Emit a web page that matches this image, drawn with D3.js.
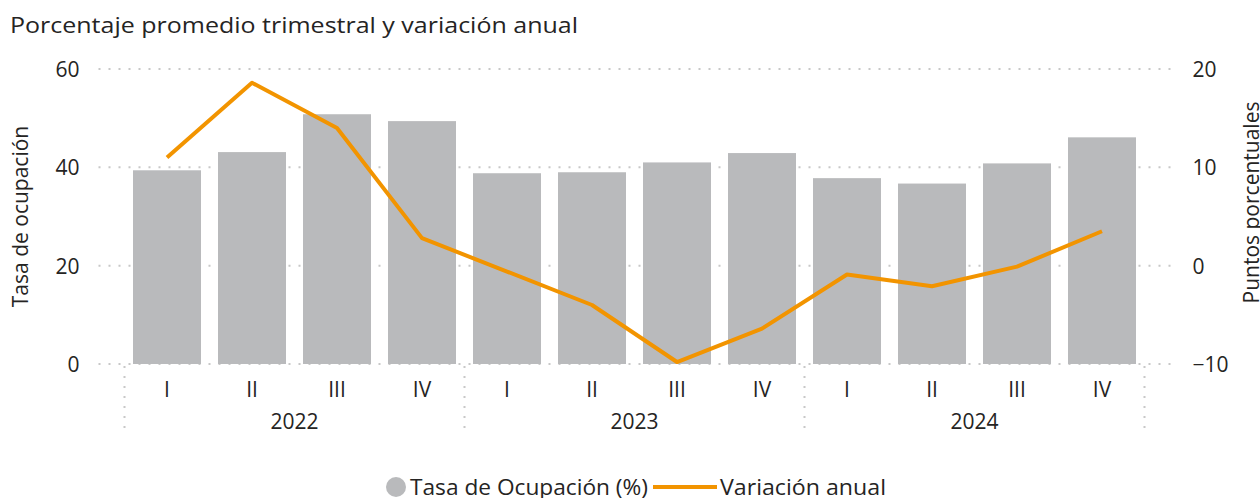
<!DOCTYPE html>
<html>
<head>
<meta charset="utf-8">
<script src="https://cdn.jsdelivr.net/npm/d3@7"></script>
<style>
  body { margin: 0; background: #fff; }
  svg text { font-family: "Open Sans", "Noto Sans", sans-serif; fill: #252423; }
</style>
</head>
<body>
<svg width="1260" height="498"></svg>
<script>
// data
const years = ["2022", "2023", "2024"];
const quarters = ["I", "II", "III", "IV"];
const ocupacion = [39.4, 43.1, 50.8, 49.4, 38.8, 39.0, 41.0, 42.9, 37.8, 36.7, 40.8, 46.1];
const variacion = [11.0, 18.6, 14.0, 2.8, -0.6, -4.0, -9.8, -6.4, -0.9, -2.1, -0.1, 3.5];
const leftTicks = [0, 20, 40, 60];
const rightTicks = [-10, 0, 10, 20];

const svg = d3.select("svg");
const width = +svg.attr("width");
const height = +svg.attr("height");

const barColor = "#b9babc";
const lineColor = "#f29400";
const gridColor = "#c8c8c8";

const margin = { top: 69, right: 115.5, bottom: 134, left: 124.5 };
const innerWidth = width - margin.left - margin.right;
const innerHeight = height - margin.top - margin.bottom;

const data = ocupacion.map((v, i) => ({
    key: years[Math.floor(i / 4)] + "-" + quarters[i % 4],
    year: years[Math.floor(i / 4)],
    q: quarters[i % 4],
    ocup: v,
    vari: variacion[i]
}));

const xScale = d3.scaleBand()
    .domain(data.map(d => d.key))
    .range([0, innerWidth])
    .paddingInner(0.2)
    .paddingOuter(0.1);

const yLeft = d3.scaleLinear().domain([0, 60]).range([innerHeight, 0]);
const yRight = d3.scaleLinear().domain([-10, 20]).range([innerHeight, 0]);

// title
svg.append("text")
    .attr("x", 10).attr("y", 33)
    .attr("textLength", 568).attr("lengthAdjust", "spacingAndGlyphs")
    .style("font-size", "22px")
    .text("Porcentaje promedio trimestral y variación anual");

const g = svg.append("g")
    .attr("transform", `translate(${margin.left}, ${margin.top})`);

// gridlines
g.append("g").selectAll("line").data(leftTicks)
    .enter().append("line")
        .attr("x1", -26).attr("x2", innerWidth + 27)
        .attr("y1", d => yLeft(d)).attr("y2", d => yLeft(d))
        .attr("stroke", gridColor)
        .attr("stroke-width", 2)
        .attr("stroke-dasharray", "2,8");

// left axis
const axL = g.append("g")
    .call(d3.axisLeft(yLeft).tickValues(leftTicks).tickSize(0).tickPadding(45));
axL.select(".domain").remove();
axL.selectAll("text").style("font-size", "21px").attr("dy", "0.35em");

// right axis
const axR = g.append("g")
    .attr("transform", `translate(${innerWidth}, 0)`)
    .call(d3.axisRight(yRight).tickValues(rightTicks).tickSize(0).tickPadding(48));
axR.select(".domain").remove();
axR.selectAll("text").style("font-size", "21px").attr("dy", "0.35em");
axL.attr("font-family", null);
axR.attr("font-family", null);

// axis titles
svg.append("text")
    .attr("transform", `translate(28, ${margin.top + innerHeight / 2}) rotate(-90)`)
    .attr("text-anchor", "middle")
    .style("font-size", "21px")
    .text("Tasa de ocupación");

svg.append("text")
    .attr("transform", `translate(1259, ${margin.top + innerHeight / 2 - 14}) rotate(-90)`)
    .attr("text-anchor", "middle")
    .style("font-size", "21px")
    .text("Puntos porcentuales");

// bars
g.selectAll("rect.bar").data(data)
    .enter().append("rect")
        .attr("class", "bar")
        .attr("x", d => xScale(d.key))
        .attr("y", d => yLeft(d.ocup))
        .attr("width", xScale.bandwidth())
        .attr("height", d => innerHeight - yLeft(d.ocup))
        .attr("fill", barColor);

// line
const line = d3.line()
    .x(d => xScale(d.key) + xScale.bandwidth() / 2)
    .y(d => yRight(d.vari));

g.append("path")
    .datum(data)
    .attr("fill", "none")
    .attr("stroke", lineColor)
    .attr("stroke-width", 4)
    .attr("stroke-linejoin", "round")
    .attr("d", line);

// quarter labels
g.selectAll("text.q").data(data)
    .enter().append("text")
        .attr("class", "q")
        .attr("x", d => xScale(d.key) + xScale.bandwidth() / 2)
        .attr("y", innerHeight + 33)
        .attr("text-anchor", "middle")
        .style("font-size", "21px")
        .text(d => d.q);

// year groups
const step = xScale.step();
const yearStart = y => xScale(y + "-I") - step * xScale.paddingInner() / 2;
const seps = years.map(yearStart).concat([innerWidth]);
seps[0] = 0;

g.selectAll("line.sep").data(seps)
    .enter().append("line")
        .attr("class", "sep")
        .attr("x1", d => d).attr("x2", d => d)
        .attr("y1", innerHeight + 2).attr("y2", innerHeight + 70)
        .attr("stroke", gridColor)
        .attr("stroke-width", 2)
        .attr("stroke-dasharray", "2,8");

g.selectAll("text.year").data(years)
    .enter().append("text")
        .attr("class", "year")
        .attr("x", (d, i) => (seps[i] + seps[i + 1]) / 2)
        .attr("y", innerHeight + 65)
        .attr("text-anchor", "middle")
        .style("font-size", "21px")
        .text(d => d);

// legend
const legend = svg.append("g").attr("transform", "translate(0, 487)");
legend.append("circle")
    .attr("cx", 396).attr("cy", 0).attr("r", 10)
    .attr("fill", barColor);
legend.append("text")
    .attr("x", 410).attr("y", 0).attr("dy", "0.35em")
    .attr("textLength", 238).attr("lengthAdjust", "spacingAndGlyphs")
    .style("font-size", "22px")
    .text("Tasa de Ocupación (%)");
legend.append("line")
    .attr("x1", 653).attr("x2", 717)
    .attr("y1", 0).attr("y2", 0)
    .attr("stroke", lineColor).attr("stroke-width", 4);
legend.append("text")
    .attr("x", 720).attr("y", 0).attr("dy", "0.35em")
    .attr("textLength", 166).attr("lengthAdjust", "spacingAndGlyphs")
    .style("font-size", "22px")
    .text("Variación anual");
</script>
</body>
</html>
